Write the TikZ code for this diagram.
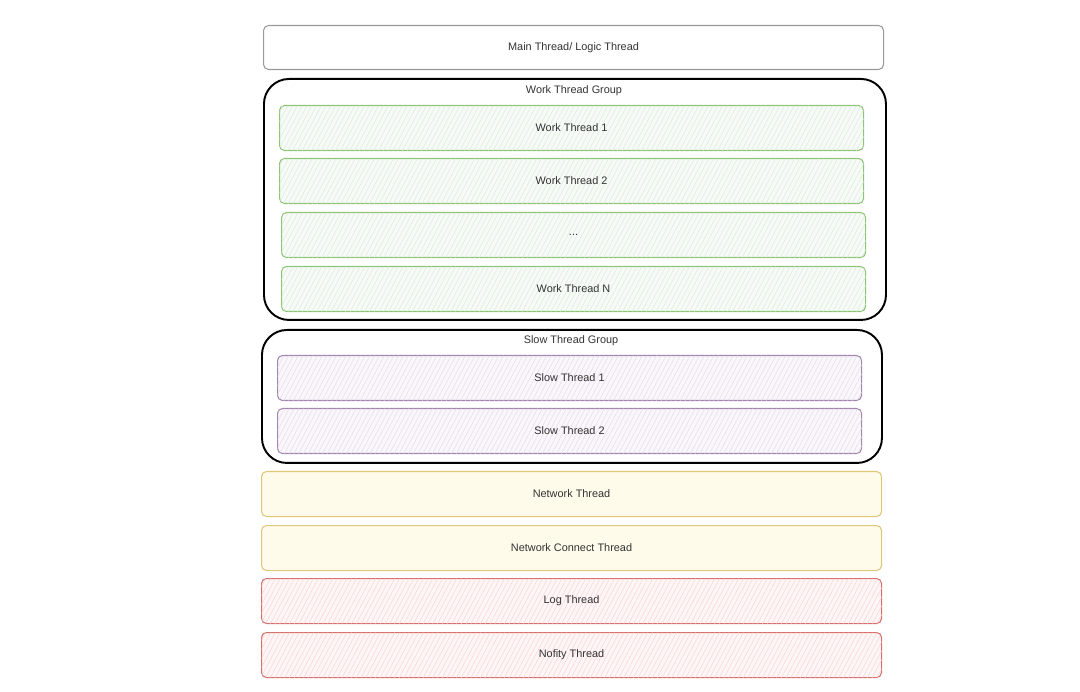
\documentclass[tikz,border=0pt]{standalone}
\usepackage{fontspec}
\setsansfont{Liberation Sans}
\usepackage{xcolor}
\usepackage{tikz}
\usetikzlibrary{patterns.meta}
\usetikzlibrary{positioning}

\definecolor{grnline}{HTML}{8CC474}
\definecolor{grnfill}{HTML}{D5E8D4}
\definecolor{purline}{HTML}{A286B0}
\definecolor{purfill}{HTML}{E1D5E7}
\definecolor{yelline}{HTML}{E0C679}
\definecolor{yelfill}{HTML}{FFFBEA}
\definecolor{redline}{HTML}{D66F6B}
\definecolor{redfill}{HTML}{F8CECC}
\definecolor{txtgray}{HTML}{333333}

\begin{document}
\begin{tikzpicture}[
	font=\sffamily\fontsize{6.2}{7.5}\selectfont,
	text=txtgray
]
\tikzset{
    threadbox/.style = {rectangle, rounded corners=0.1cm, align=center, anchor=north west,
        minimum width=11.68cm, minimum height=0.9cm, line width=0.6pt},
    groupbox/.style = {rectangle, draw=black, rounded corners=0.5cm, anchor=north west, line width=1.1pt},
    grouptitle/.style = {anchor=center, inner sep=0pt},
    hatched/.style 2 args = {draw=#1, fill=#2!18,
        postaction={pattern={Lines[angle=62,distance=2.4pt,line width=0.3pt]}, pattern color=#2!85}},
    greenbox/.style = {threadbox, hatched={grnline}{grnfill}},
    purplebox/.style = {threadbox, hatched={purline}{purfill}},
    redbox/.style = {threadbox, hatched={redline}{redfill}, minimum width=12.40cm},
    yellowbox/.style = {threadbox, draw=yelline, fill=yelfill, minimum width=12.40cm}
}
\useasboundingbox (0,0) rectangle (21.6,-13.84);

% main thread
\node[threadbox, draw=gray!80, fill=white, minimum width=12.40cm, minimum height=0.88cm] (main) at (5.26,-0.50) {Main Thread/ Logic Thread};

% work threads
\node[groupbox, minimum width=12.44cm, minimum height=4.82cm] (workgroup) at (5.26,-1.56) {};
\node[grouptitle] (worktitle) at (11.48,-1.82) {Work Thread Group};
\node[greenbox] (work1) at (5.58,-2.10) {Work Thread 1};
\node[greenbox] (work2) at (5.58,-3.16) {Work Thread 2};
\node[greenbox] (workdots) at (5.62,-4.24) {...};
\node[greenbox] (workn) at (5.62,-5.32) {Work Thread N};

% slow threads
\node[groupbox, minimum width=12.40cm, minimum height=2.66cm] (slowgroup) at (5.22,-6.58) {};
\node[grouptitle] (slowtitle) at (11.42,-6.82) {Slow Thread Group};
\node[purplebox] (slow1) at (5.54,-7.10) {Slow Thread 1};
\node[purplebox] (slow2) at (5.54,-8.16) {Slow Thread 2};

% network, log, notify
\node[yellowbox] (net) at (5.22,-9.42) {Network Thread};
\node[yellowbox] (netconn) at (5.22,-10.50) {Network Connect Thread};
\node[redbox] (log) at (5.22,-11.56) {Log Thread};
\node[redbox] (nofity) at (5.22,-12.64) {Nofity Thread};
\end{tikzpicture}
\end{document}
